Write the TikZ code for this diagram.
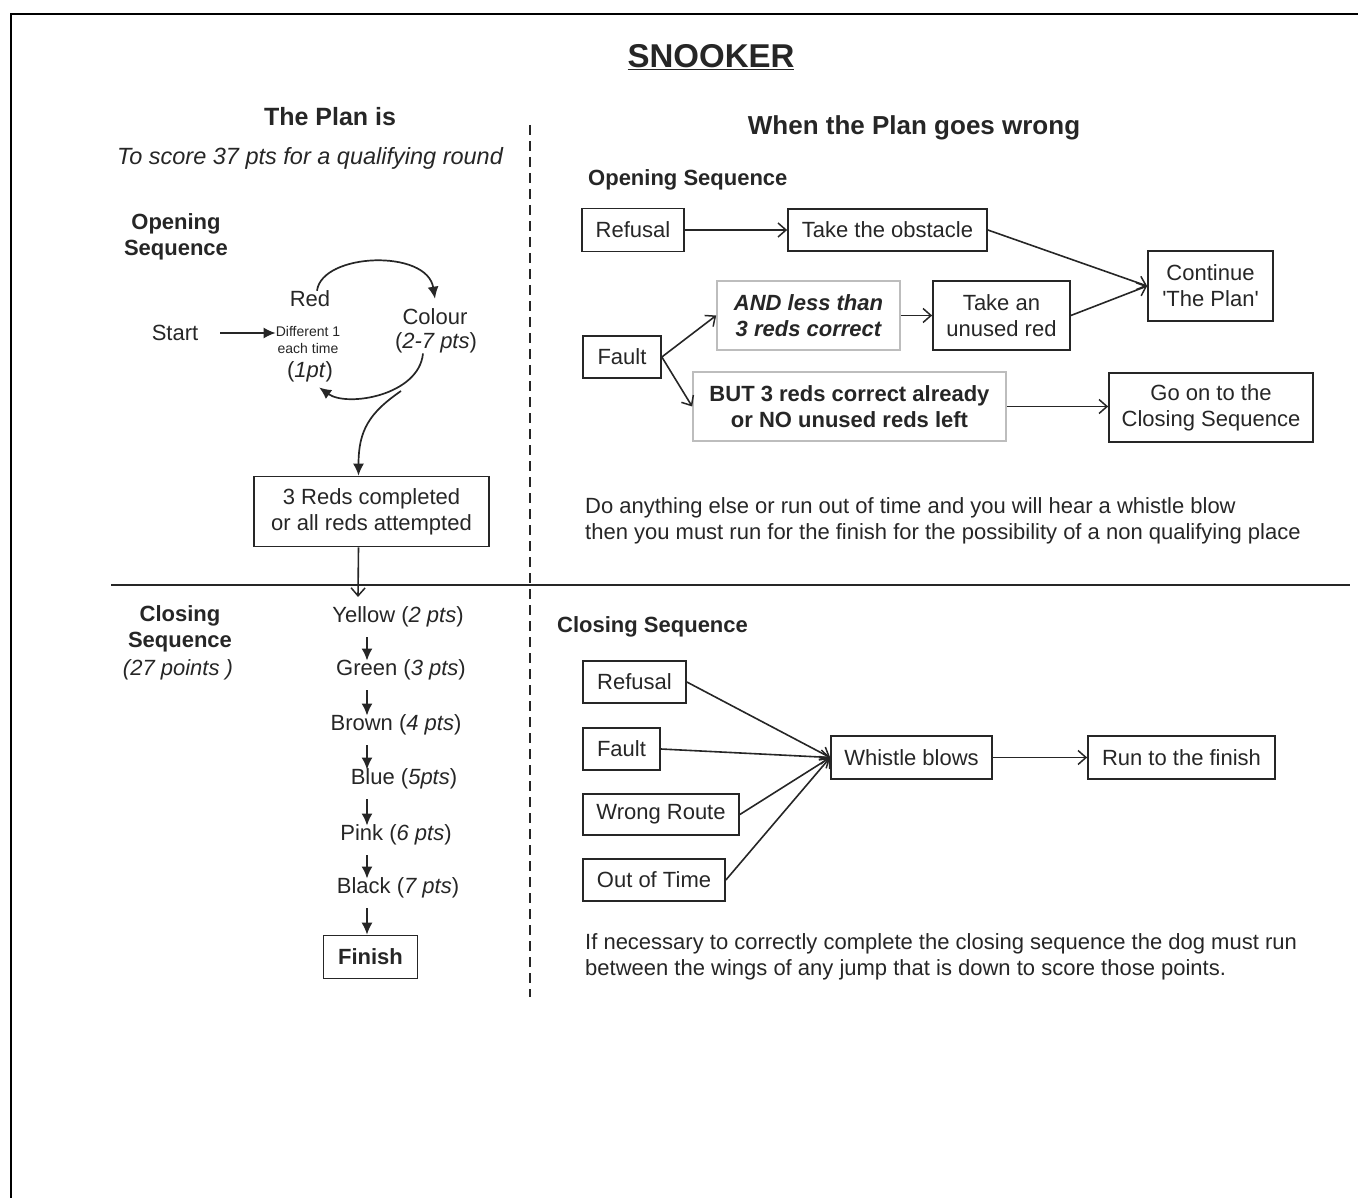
\documentclass[tikz,border=0pt]{standalone}
\usepackage{fontspec}
\setmainfont{Liberation Sans}
\usetikzlibrary{arrows.meta}
\definecolor{ink}{HTML}{262626}
\definecolor{lite}{HTML}{BDBDBD}
\newcommand\fsz[2]{\fontsize{#1}{#2}\selectfont}
\begin{document}
\begin{tikzpicture}[x=1pt,y=-1pt,
  every node/.style={font=\fsz{22}{26}, text=ink, inner sep=0pt},
  bx/.style={draw=ink, line width=1.7pt, align=center},
  gbx/.style={draw=lite, line width=1.7pt, align=center},
  oarr/.style={draw=ink, line width=1.6pt, -{Straight Barb[length=8pt,width=14pt,line width=1.5pt]}},
  farr/.style={draw=ink, line width=1.7pt, -{Latex[length=12pt,width=11pt]}},
  hd/.style={font=\fsz{22}{26}\bfseries, align=center},
  txt/.style={anchor=west, align=left},
]
\useasboundingbox (0,0) rectangle (1358,1198);
% frame
\draw[line width=2.4pt, black] (11,1200) -- (11,14) -- (1360,14);
% dividers
\draw[ink, line width=1.5pt] (111,585) -- (1350,585);
\draw[ink, line width=1.3pt, dash pattern=on 10pt off 6pt] (530,125) -- (530,997);

% titles
\node[font=\fsz{33}{38}\bfseries] (title) at (711,57) {\underline{SNOOKER}};
\node[font=\fsz{25}{30}\bfseries] (plan) at (330,117) {The Plan is};
\node[font=\fsz{23.5}{28}\itshape] (score) at (310,158) {To score 37 pts for a qualifying round};
\node[font=\fsz{26}{30}\bfseries] (wrong) at (914,128) {When the Plan goes wrong};

% ---------- left: opening sequence
\node[hd] (openL) at (176,237) {Opening\\Sequence};
\node (start) at (175,333) {Start};
\node (red) at (310,299) {Red};
\node[font=\fsz{14}{17}, align=center] (diff) at (308,339.5) {Different 1\\each time};
\node (onept) at (310,372) {(\textit{1pt})};
\node (col) at (435,317) {Colour};
\node (colpts) at (436,343) {(\textit{2-7 pts})};
\node[bx, minimum width=235pt, minimum height=70pt] (reds) at (371.5,511.5) {3 Reds completed\\or all reds attempted};

\draw[farr] ([xshift=22pt]start.east) -- (diff.west |- start.center);
\draw[farr] ([xshift=7pt]red.north) .. controls +(5,-38) and +(-8,-50) .. ([yshift=10pt]col.north);
\draw[farr] ([xshift=-13pt]colpts.south) .. controls +(-4,42) and +(28,20) .. ([xshift=-14pt,yshift=-5pt]onept.south east);
\coordinate (br) at (401,391);
\draw[farr] (br) .. controls +(-32,22) and +(0,-45) .. ([xshift=-13pt]reds.north);
\coordinate (dn) at (358,597);
\draw[oarr] ([xshift=-13pt]reds.south) -- (dn);

% ---------- left: closing sequence
\node[hd] (closeL) at (180,629) {Closing\\Sequence};
\node[font=\fsz{22}{26}\itshape] (pts27) at (178,670) {(27 points )};
\node (c1) at (398,617) {Yellow (\textit{2 pts})};
\node (c2) at (401,670) {Green (\textit{3 pts})};
\node (c3) at (396,725) {Brown (\textit{4 pts})};
\node (c4) at (404,779) {Blue (\textit{5pts})};
\node (c5) at (396,835) {Pink (\textit{6 pts})};
\node (c6) at (398,888) {Black (\textit{7 pts})};
\node[bx, font=\fsz{22}{26}\bfseries, minimum width=94pt, minimum height=43pt] (fin) at (370.5,957) {Finish};
\coordinate (ac) at (367,0);
\foreach \a/\b in {c1/c2,c2/c3,c3/c4,c4/c5,c5/c6} {
  \draw[farr, shorten <=10pt, shorten >=-1pt] (\a.south -| ac) -- (\b.north -| ac);
}
\draw[farr, shorten <=10pt] (c6.south -| ac) -- (fin.north -| ac);

% ---------- right: opening sequence
\node[font=\fsz{22}{26}\bfseries, anchor=west] (openR) at (588,180) {Opening Sequence};
\node[bx, minimum width=102pt, minimum height=43pt] (r1) at (633,230) {Refusal};
\node[bx, minimum width=199pt, minimum height=42pt] (tob) at (887.5,230) {Take the obstacle};
\node[bx, minimum width=125pt, minimum height=70pt] (cont) at (1210.5,286) {Continue\\\textquotesingle The Plan\textquotesingle};
\node[gbx, font=\fsz{22}{26}\bfseries\itshape, minimum width=183pt, minimum height=69pt] (andb) at (808.5,315.5) {AND less than\\3 reds correct};
\node[bx, minimum width=137pt, minimum height=69pt] (tun) at (1001.5,315.5) {Take an\\unused red};
\node[bx, minimum width=78pt, minimum height=42pt] (flt) at (622,357) {Fault};
\node[gbx, font=\fsz{22}{26}\bfseries, minimum width=313pt, minimum height=69pt] (butb) at (849.5,406.5) {BUT 3 reds correct already\\or NO unused reds left};
\node[bx, minimum width=204pt, minimum height=69pt] (goon) at (1211,407.5) {Go on to the\\Closing Sequence};

\draw[oarr] (r1) -- (tob);
\draw[oarr] (tob.east) -- (cont.west);
\draw[oarr] (tun.east) -- (cont.west);
\draw[oarr] (andb) -- (tun);
\draw[oarr] (flt.east) -- (andb.west);
\draw[oarr] (flt.east) -- (butb.west);
\draw[oarr] (butb.east) -- (goon.west |- butb.east);

\node[txt] (note1) at (585,521) {Do anything else or run out of time and you will hear a whistle blow\\then you must run for the finish for the possibility of a non qualifying place};

% ---------- right: closing sequence
\node[font=\fsz{22}{26}\bfseries, anchor=west] (closeR) at (557,627) {Closing Sequence};
\node[bx, minimum width=103pt, minimum height=42pt] (cr) at (634.5,682) {Refusal};
\node[bx, minimum width=77pt, minimum height=42pt] (cf) at (621.5,749) {Fault};
\node[bx, minimum width=156pt, minimum height=41pt] (cw) at (661,814.5) {Wrong Route};
\node[bx, minimum width=142pt, minimum height=42pt] (co) at (654,880) {Out of Time};
\node[bx, minimum width=161pt, minimum height=43pt] (wb) at (911.5,757.5) {Whistle blows};
\node[bx, minimum width=187pt, minimum height=43pt] (rf) at (1181.5,757.5) {Run to the finish};

\draw[oarr] (cr.east) -- (wb.west);
\draw[oarr] (cf.east) -- (wb.west);
\draw[oarr] (cw.east) -- (wb.west);
\draw[oarr] (co.east) -- (wb.west);
\draw[oarr] (wb) -- (rf);

\node[txt] (note2) at (585,957) {If necessary to correctly complete the closing sequence the dog must run\\between the wings of any jump that is down to score those points.};
\end{tikzpicture}
\end{document}
